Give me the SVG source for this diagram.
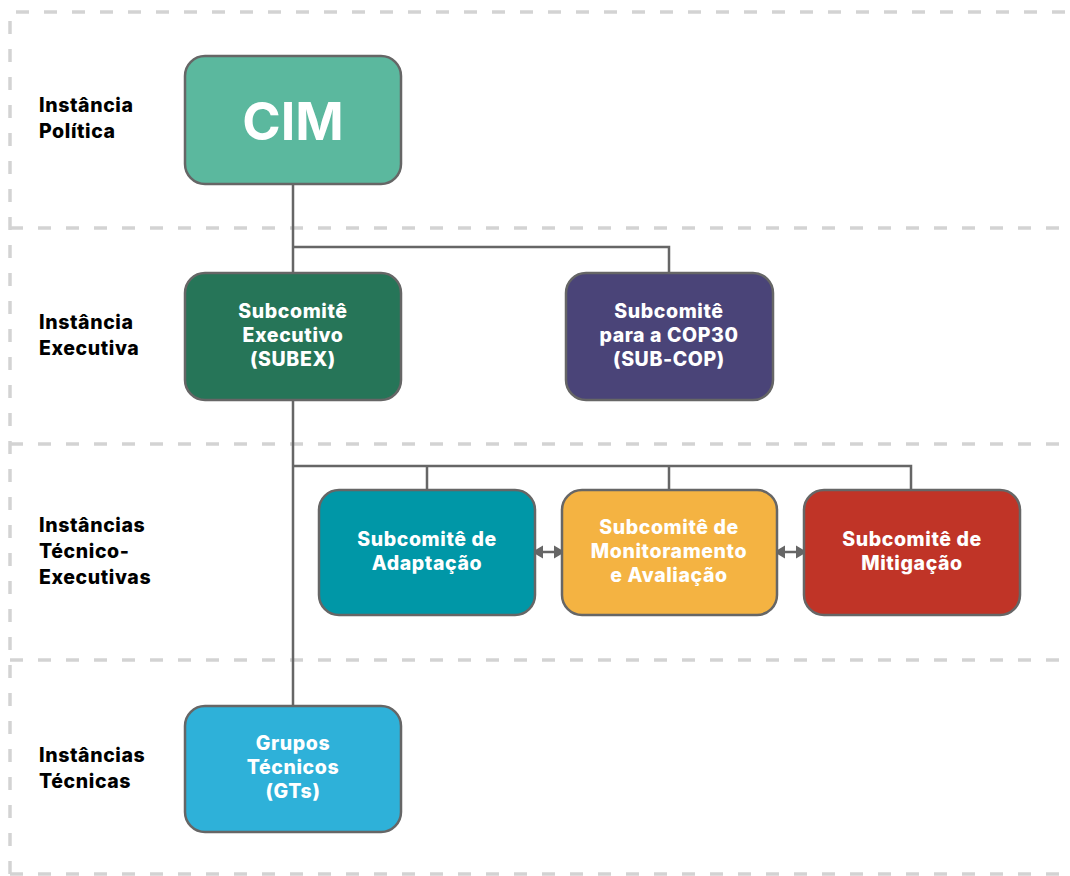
<svg xmlns="http://www.w3.org/2000/svg" width="1070" height="876" viewBox="0 0 1070 876">
<defs>
<style>
.frame{fill:none;stroke:#d3d3d3;stroke-width:3.5;stroke-dasharray:13 15}
.box{stroke:#666;stroke-width:2.5}
.lbl{font-family:Inter,"Liberation Sans",sans-serif;font-weight:800;font-size:19.5px;letter-spacing:0.6px;fill:#000}
.bt{font-family:Inter,"Liberation Sans",sans-serif;font-weight:800;font-size:19.5px;letter-spacing:0.6px;fill:#fff;text-anchor:middle}
.con{fill:none;stroke:#666;stroke-width:2.5}
.ah{fill:#666}
</style>
</defs>
<rect width="1070" height="876" fill="#fff"/>
<g id="frame">
<path class="frame" d="M10,874 V12 H1070"/>
<path class="frame" d="M10,228 H1070"/>
<path class="frame" d="M10,444 H1070"/>
<path class="frame" d="M10,660 H1070"/>
<path class="frame" d="M10,874 H1070"/>
</g>
<g id="labels">
<text class="lbl" x="39" y="112">Instância</text>
<text class="lbl" x="39" y="138">Política</text>
<text class="lbl" x="39" y="329">Instância</text>
<text class="lbl" x="39" y="355">Executiva</text>
<text class="lbl" x="39" y="532">Instâncias</text>
<text class="lbl" x="39" y="558">Técnico-</text>
<text class="lbl" x="39" y="584">Executivas</text>
<text class="lbl" x="39" y="762">Instâncias</text>
<text class="lbl" x="39" y="788">Técnicas</text>
</g>
<g id="connectors">
<path class="con" d="M293,184 V706"/>
<path class="con" d="M293,247 H669 V273"/>
<path class="con" d="M293,466 H911 V490 M427,466 V490 M669,466 V490"/>
<path class="con" d="M540,552 H557"/>
<polygon class="ah" points="532,552 543,545.5 543,558.5"/>
<polygon class="ah" points="565,552 554,545.5 554,558.5"/>
<path class="con" d="M782,552 H799"/>
<polygon class="ah" points="774,552 785,545.5 785,558.5"/>
<polygon class="ah" points="807,552 796,545.5 796,558.5"/>
</g>
<g id="cim">
<rect class="box" x="185" y="56" width="216" height="128" rx="20" fill="#5bb89e"/>
<text x="293" y="140" font-family="Inter,'Liberation Sans',sans-serif" font-weight="700" font-size="52" fill="#fff" text-anchor="middle">CIM</text>
</g>
<g id="subex">
<rect class="box" x="185" y="273" width="216" height="127" rx="20" fill="#267558"/>
<text class="bt" x="293" y="318">Subcomitê</text>
<text class="bt" x="293" y="342">Executivo</text>
<text class="bt" x="293" y="366">(SUBEX)</text>
</g>
<g id="subcop">
<rect class="box" x="566" y="273" width="207" height="127" rx="20" fill="#4a4478"/>
<text class="bt" x="669" y="318">Subcomitê</text>
<text class="bt" x="669" y="342">para a COP30</text>
<text class="bt" x="669" y="366">(SUB-COP)</text>
</g>
<g id="adaptacao">
<rect class="box" x="319" y="490" width="216" height="125" rx="20" fill="#0097a7"/>
<text class="bt" x="427" y="546">Subcomitê de</text>
<text class="bt" x="427" y="570">Adaptação</text>
</g>
<g id="monitoramento">
<rect class="box" x="562" y="490" width="215" height="125" rx="20" fill="#f4b342"/>
<text class="bt" x="669" y="534">Subcomitê de</text>
<text class="bt" x="669" y="558">Monitoramento</text>
<text class="bt" x="669" y="582">e Avaliação</text>
</g>
<g id="mitigacao">
<rect class="box" x="804" y="490" width="216" height="125" rx="20" fill="#c03427"/>
<text class="bt" x="912" y="546">Subcomitê de</text>
<text class="bt" x="912" y="570">Mitigação</text>
</g>
<g id="gts">
<rect class="box" x="185" y="706" width="216" height="126" rx="20" fill="#2eb1d9"/>
<text class="bt" x="293" y="750">Grupos</text>
<text class="bt" x="293" y="774">Técnicos</text>
<text class="bt" x="293" y="798">(GTs)</text>
</g>
</svg>
